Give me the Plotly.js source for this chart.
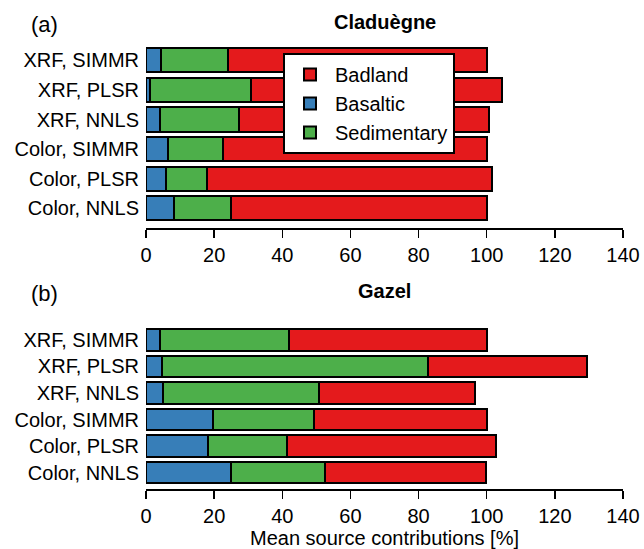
<!DOCTYPE html>
<html>
<head>
<meta charset="utf-8">
<script src="https://cdn.plot.ly/plotly-3.0.1.min.js"></script>
<style>html,body{margin:0;padding:0;background:#fff;}#chart{width:644px;height:549px;}</style>
</head>
<body>
<div id="chart"></div>
<script>
// Categories, top to bottom
var methods = ["XRF, SIMMR", "XRF, PLSR", "XRF, NNLS", "Color, SIMMR", "Color, PLSR", "Color, NNLS"];
var sources = ["Badland", "Basaltic", "Sedimentary"];
var xTicks = [0, 20, 40, 60, 80, 100, 120, 140];

// Panel (a) Claduègne — mean source contributions [%]
var cladBasaltic    = [4.5, 1.3, 4.2, 6.5, 5.8, 8.3];
var cladSedimentary = [19.5, 29.5, 23.1, 16.2, 12.2, 16.7];
var cladBadland     = [76.0, 73.7, 73.4, 77.3, 83.5, 75.0];

// Panel (b) Gazel — mean source contributions [%]
var gazBasaltic    = [4.2, 4.6, 5.1, 19.8, 18.2, 25.0];
var gazSedimentary = [37.8, 78.1, 45.6, 29.6, 23.3, 27.4];
var gazBadland     = [58.0, 46.8, 45.8, 50.6, 61.2, 47.3];

var colors = {Badland: "#E41A1C", Basaltic: "#377EB8", Sedimentary: "#4DAF4A"};
var rank = {Badland: 1, Basaltic: 2, Sedimentary: 3};
var FONT = "Liberation Sans, Arial, Helvetica, sans-serif";
var FS = 20;

function mk(name, vals, yax, showleg) {
  return {
    type: "bar", orientation: "h", name: name,
    x: vals, y: methods, yaxis: yax, xaxis: yax === "y" ? "x" : "x2",
    width: 0.82,
    marker: {color: colors[name], line: {color: "#000", width: 2}},
    showlegend: showleg, legendrank: rank[name], hoverinfo: "x+y+name"
  };
}

var data = [
  mk("Basaltic", cladBasaltic, "y", true),
  mk("Sedimentary", cladSedimentary, "y", true),
  mk("Badland", cladBadland, "y", true),
  mk("Basaltic", gazBasaltic, "y2", false),
  mk("Sedimentary", gazSedimentary, "y2", false),
  mk("Badland", gazBadland, "y2", false)
];

var H = 549;
function dom(top, bottom) { return [1 - bottom / H, 1 - top / H]; }

function xax(anchor) {
  return {
    anchor: anchor, domain: [0, 1], range: [0, 140],
    tickvals: xTicks, ticktext: xTicks.map(String),
    showline: true, linecolor: "#000", linewidth: 1.5,
    ticks: "outside", ticklen: 8, tickwidth: 1.5, tickcolor: "#000",
    showgrid: false, zeroline: false,
    tickfont: {family: FONT, size: FS, color: "#000"}
  };
}
function yax(anchor, top, bottom, pad) {
  return {
    anchor: anchor, domain: dom(top, bottom),
    type: "category", categoryorder: "array", categoryarray: methods,
    range: [5 + pad, -pad],
    showline: false, showgrid: false, zeroline: false, ticks: "",
    ticklabelstandoff: 6,
    tickfont: {family: FONT, size: FS, color: "#000"}
  };
}

var x2 = xax("y2");
x2.title = {text: "Mean source contributions [%]", font: {family: FONT, size: FS, color: "#000"}, standoff: 6};

var layout = {
  width: 644, height: 549,
  margin: {l: 146, r: 21, t: 0, b: 0},
  paper_bgcolor: "#fff", plot_bgcolor: "rgba(0,0,0,0)",
  barmode: "stack", bargap: 0.18,
  font: {family: FONT, color: "#000"},
  xaxis: xax("y"),
  xaxis2: x2,
  yaxis: yax("x", 40.3, 228.3, 0.676),
  yaxis2: yax("x2", 323.5, 489, 0.62),
  showlegend: true,
  legend: {
    x: (283 - 146) / 477, y: 1 - 53 / H, xanchor: "left", yanchor: "top",
    bgcolor: "#fff", bordercolor: "#000", borderwidth: 2,
    traceorder: "normal",
    font: {family: FONT, size: FS, color: "#000"},
    itemwidth: 40, tracegroupgap: 0
  },
  annotations: [
    {text: "(a)", xref: "paper", yref: "paper", x: (44 - 146) / 477, y: 1 - 24 / H, xanchor: "center", yanchor: "middle", showarrow: false, font: {family: FONT, size: 22, color: "#000"}},
    {text: "<b>Claduègne</b>", xref: "paper", yref: "paper", x: 0.5, y: 1 - 22 / H, xanchor: "center", yanchor: "middle", showarrow: false, font: {family: FONT, size: FS, color: "#000"}},
    {text: "(b)", xref: "paper", yref: "paper", x: (44 - 146) / 477, y: 1 - 293 / H, xanchor: "center", yanchor: "middle", showarrow: false, font: {family: FONT, size: 22, color: "#000"}},
    {text: "<b>Gazel</b>", xref: "paper", yref: "paper", x: 0.5, y: 1 - 291 / H, xanchor: "center", yanchor: "middle", showarrow: false, font: {family: FONT, size: FS, color: "#000"}}
  ]
};

Plotly.newPlot("chart", data, layout, {displayModeBar: false, staticPlot: true});
</script>
</body>
</html>
